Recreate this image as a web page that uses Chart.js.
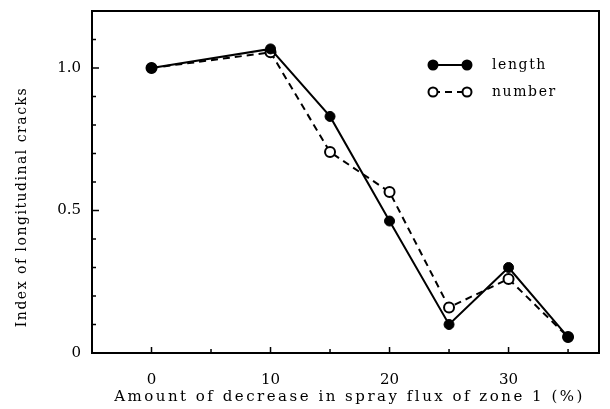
<!DOCTYPE html>
<html>
<head>
<meta charset="utf-8">
<script src="https://cdn.jsdelivr.net/npm/chart.js@4/dist/chart.umd.min.js"></script>
<style>
  html, body { margin: 0; padding: 0; background: #fff; }
  #wrap { width: 610px; height: 409px; }
</style>
</head>
<body>
<div id="wrap"><canvas id="cracks-chart" width="610" height="409"></canvas></div>
<script>
// values
const decrease = [0, 10, 15, 20, 25, 30, 35]
const lengthIndex = [1.0, 1.067, 0.83, 0.463, 0.10, 0.30, 0.056]
const numberIndex = [1.0, 1.055, 0.705, 0.565, 0.16, 0.26, 0.056]
const xLabels = [0, 10, 20, 30]
const yLabels = [0, 0.5, 1.0]
const xTitle = 'Amount of decrease in spray flux of zone 1 (%)'
const yTitle = 'Index of longitudinal cracks'
const seriesNames = ['length', 'number']

const serif = "'DejaVu Serif', 'Liberation Serif', serif"

function toPoints(ys) {
  return decrease.map((x, i) => ({ x: x, y: ys[i] }))
}

function noScalePadding(scale) {
  scale.paddingTop = 0
  scale.paddingBottom = 0
  scale.paddingLeft = 0
  scale.paddingRight = 0
}

// frame, inward ticks, axis titles and the little legend
const paperPlugin = {
  id: 'paper',
  afterDraw(chart) {
    const ctx = chart.ctx
    const area = chart.chartArea
    const xs = chart.scales.x
    const ys = chart.scales.y
    ctx.save()
    ctx.strokeStyle = '#000'
    ctx.lineWidth = 2
    ctx.strokeRect(area.left, area.top, area.right - area.left, area.bottom - area.top)

    ctx.lineWidth = 1.5
    ctx.beginPath()
    for (let v = 0; v <= 35; v += 5) {
      const px = xs.getPixelForValue(v)
      const len = (v % 10 === 0) ? 6 : 4
      ctx.moveTo(px, area.bottom)
      ctx.lineTo(px, area.bottom - len)
    }
    for (let i = 1; i <= 11; i++) {
      const py = ys.getPixelForValue(i / 10)
      const len = (i % 5 === 0) ? 7 : 4
      ctx.moveTo(area.left, py)
      ctx.lineTo(area.left + len, py)
    }
    ctx.stroke()

    // axis titles
    ctx.fillStyle = '#000'
    ctx.font = '15px ' + serif
    ctx.letterSpacing = '2.5px'
    ctx.textAlign = 'center'
    ctx.textBaseline = 'middle'
    ctx.fillText(xTitle, (area.left + area.right) / 2 + 4, 397)
    ctx.save()
    ctx.translate(22, 207)
    ctx.rotate(-Math.PI / 2)
    ctx.font = '14px ' + serif
    ctx.letterSpacing = '1.5px'
    ctx.fillText(yTitle, 0, 0)
    ctx.restore()

    // legend
    ctx.font = '14px ' + serif
    const items = chart.data.datasets
    items.forEach((ds, i) => {
      const y = 65 + i * 27
      const x1 = 433, x2 = 467
      ctx.beginPath()
      ctx.lineWidth = 2
      ctx.setLineDash(ds.borderDash || [])
      ctx.moveTo(x1, y)
      ctx.lineTo(x2, y)
      ctx.stroke()
      ctx.setLineDash([])
      ;[x1, x2].forEach(px => {
        ctx.beginPath()
        ctx.arc(px, y, 4.5, 0, Math.PI * 2)
        ctx.fillStyle = ds.pointBackgroundColor
        ctx.fill()
        ctx.lineWidth = 2
        ctx.stroke()
      })
      ctx.fillStyle = '#000'
      ctx.textAlign = 'left'
      ctx.letterSpacing = '1.6px'
      ctx.fillText(ds.label, 492, y)
    })
    ctx.restore()
  }
}

const cracksConfig = {
  type: 'line',
  data: {
    datasets: [{
      label: seriesNames[0],
      data: toPoints(lengthIndex),
      borderColor: '#000',
      borderWidth: 2,
      pointRadius: 5,
      pointBackgroundColor: '#000',
      pointBorderColor: '#000',
      pointBorderWidth: 1,
      tension: 0
    },
    {
      label: seriesNames[1],
      data: toPoints(numberIndex),
      borderColor: '#000',
      borderWidth: 2,
      borderDash: [7, 5],
      pointRadius: 5,
      pointBackgroundColor: '#fff',
      pointBorderColor: '#000',
      pointBorderWidth: 2,
      tension: 0
    }]
  },
  options: {
    responsive: false,
    animation: false,
    layout: {
      padding: { top: 11, right: 11, left: 0, bottom: 0 }
    },
    plugins: {
      legend: { display: false },
      tooltip: { enabled: false }
    },
    scales: {
      x: {
        type: 'linear',
        min: -5,
        max: 37.6,
        afterFit: (scale) => {
          scale.height = 56
          noScalePadding(scale)
        },
        border: { display: false },
        grid: { display: false, drawTicks: false },
        ticks: {
          stepSize: 5,
          padding: 18,
          color: '#000',
          font: { family: serif, size: 15 },
          callback: function (value) {
            return xLabels.includes(value) ? String(value) : ''
          }
        }
      },
      y: {
        min: 0,
        max: 1.2,
        afterFit: (scale) => {
          scale.width = 92
          noScalePadding(scale)
        },
        border: { display: false },
        grid: { display: false, drawTicks: false },
        ticks: {
          stepSize: 0.5,
          padding: 11,
          color: '#000',
          font: { family: serif, size: 15 },
          callback: function (value) {
            if (!yLabels.includes(value)) return ''
            return value === 0 ? '0' : value.toFixed(1)
          }
        }
      }
    }
  },
  plugins: [paperPlugin]
}

const chartElement = document.getElementById('cracks-chart').getContext('2d')
const cracksChart = new Chart(chartElement, cracksConfig)
</script>
</body>
</html>
